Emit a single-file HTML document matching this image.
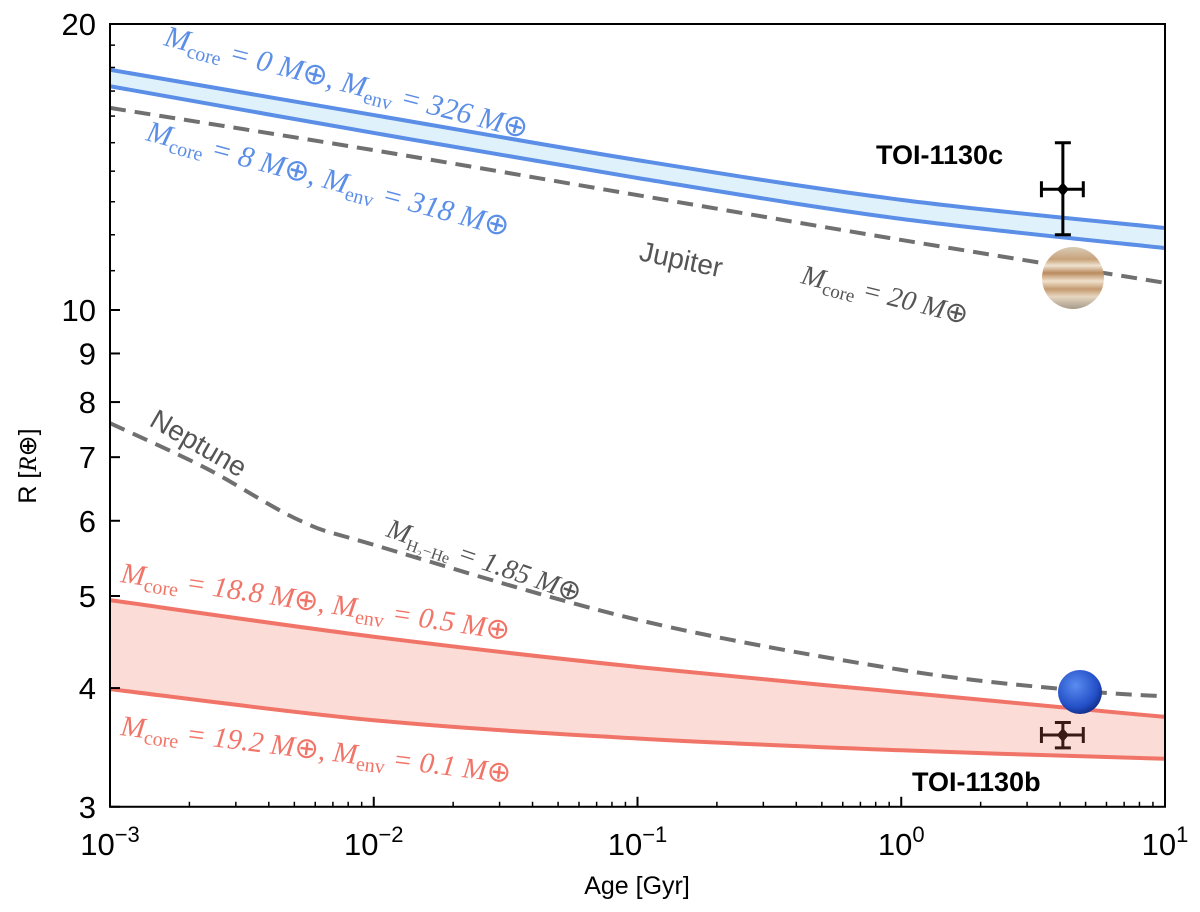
<!DOCTYPE html>
<html><head><meta charset="utf-8"><style>
body{margin:0;background:#fff;font-family:"Liberation Sans",sans-serif}
svg text{font-family:"Liberation Sans",sans-serif}
.serif{font-family:"Liberation Serif",serif;font-style:italic}
</style></head><body>
<svg id="chart" width="1200" height="907" xmlns="http://www.w3.org/2000/svg">
<defs>
<radialGradient id="nepG" cx="0.4" cy="0.35" r="0.7"><stop offset="0" stop-color="#5a8cf0"/><stop offset="0.7" stop-color="#2450c8"/><stop offset="1" stop-color="#102a80"/></radialGradient>
<linearGradient id="jupG" x1="0" y1="0" x2="0" y2="1">
<stop offset="0" stop-color="#d9cbb6"/><stop offset="0.2" stop-color="#c8a27a"/><stop offset="0.3" stop-color="#efe3d0"/><stop offset="0.42" stop-color="#b98a5e"/><stop offset="0.55" stop-color="#f0e2cc"/><stop offset="0.68" stop-color="#c49a70"/><stop offset="0.8" stop-color="#e6d6c0"/><stop offset="1" stop-color="#a89a8a"/></linearGradient>
</defs>
<g id="plot"></g>
</svg>
<script>
const ages=[0.001,0.01,0.1,1,10];
const blueUpper=[17.9,16.04,14.38,13.06,12.2];
const blueLower=[17.2,15.36,13.77,12.47,11.62];
const jupiterR=[16.32,14.73,13.21,11.85,10.68];
const neptuneAges=[0.001,0.0023,0.0052,0.01,0.1,1,4.5,10];
const neptuneR=[7.6,6.82,6.01,5.66,4.72,4.18,3.98,3.92];
const redUpper=[4.95,4.53,4.21,3.96,3.73];
const redLower=[3.99,3.70,3.54,3.44,3.37];
const planetAge=[4.1,4.1];
const planetR=[13.4,3.57];
const planetRlo=[12.0,3.46];
const planetRhi=[15.0,3.68];
const planetAgeLo=[3.4,3.4];
const planetAgeHi=[4.9,4.9];
const yTicks=[20,10,9,8,7,6,5,4,3];
const xTicks=[-3,-2,-1,0,1];

const X0=110,X1=1165,Y20=24,Y10=310;
const dec=(Y10-Y20)/Math.log10(2);
function xs(a){return X0+(Math.log10(a)+3)/4*(X1-X0);}
function ys(r){return Y10-(Math.log10(r)-1)*dec;}
const NS="http://www.w3.org/2000/svg";
const g=document.getElementById('plot');
function el(t,a,p){const e=document.createElementNS(NS,t);for(const k in a)e.setAttribute(k,a[k]);(p||g).appendChild(e);return e;}
function pts(A,R){return A.map((a,i)=>[xs(a),ys(R[i])]);}
function smooth(P){let d='M'+P[0][0]+','+P[0][1];for(let i=0;i<P.length-1;i++){const p0=P[Math.max(i-1,0)],p1=P[i],p2=P[i+1],p3=P[Math.min(i+2,P.length-1)];
const c1=[p1[0]+(p2[0]-p0[0])/6,p1[1]+(p2[1]-p0[1])/6],c2=[p2[0]-(p3[0]-p1[0])/6,p2[1]-(p3[1]-p1[1])/6];
d+=' C'+c1[0]+','+c1[1]+' '+c2[0]+','+c2[1]+' '+p2[0]+','+p2[1];}return d;}
function band(U,L,fill,name){const pu=pts(ages,U),pl=pts(ages,L).reverse();
const d=smooth(pu)+' L'+pl[0][0]+','+pl[0][1]+smooth(pl).replace(/^M[^C]*/,' ')+'Z';
const e=el('path',{d:d,fill:fill});}
function line(A,R,stroke,dash,name){const e=el('path',{d:smooth(pts(A,R)),fill:'none',stroke:stroke,'stroke-width':4,'stroke-dasharray':dash||'none'});
}
band(blueUpper,blueLower,'#dff1fb','blue-band');
band(redUpper,redLower,'#fcdcd6','red-band');
line(ages,jupiterR,'#707070','16,9','jupiter-curve');
line(neptuneAges,neptuneR,'#707070','16,9','neptune-curve');
line(ages,blueUpper,'#5b8ee6',null,'blue-upper-curve');
line(ages,blueLower,'#5b8ee6',null,'blue-lower-curve');
line(ages,redUpper,'#f17468',null,'red-upper-curve');
line(ages,redLower,'#f17468',null,'red-lower-curve');
let e=el('circle',{cx:1073,cy:278,r:31,fill:'url(#jupG)'});
e=el('circle',{cx:1080,cy:692,r:22,fill:'url(#nepG)'});
const pColors=['#000','#3a1a14'];
planetAge.forEach((a,i)=>{const gg=el('g',{stroke:pColors[i],'stroke-width':3});

const x=xs(a),y=ys(planetR[i]),ylo=ys(planetRlo[i]),yhi=ys(planetRhi[i]),xlo=xs(planetAgeLo[i]),xhi=xs(planetAgeHi[i]);
el('line',{x1:x,y1:ylo,x2:x,y2:yhi},gg);el('line',{x1:xlo,y1:y,x2:xhi,y2:y},gg);
el('line',{x1:x-8,y1:ylo,x2:x+8,y2:ylo},gg);el('line',{x1:x-8,y1:yhi,x2:x+8,y2:yhi},gg);
el('line',{x1:xlo,y1:y-8,x2:xlo,y2:y+8},gg);el('line',{x1:xhi,y1:y-8,x2:xhi,y2:y+8},gg);
el('path',{d:`M${x},${y-7}L${x+6},${y}L${x},${y+7}L${x-6},${y}Z`,fill:pColors[i],stroke:'none'},gg);});
e=el('rect',{x:X0,y:Y20,width:X1-X0,height:ys(3)-Y20,fill:'none',stroke:'#000','stroke-width':2});
yTicks.forEach(t=>{const y=ys(t);el('line',{x1:X0,y1:y,x2:X0+10,y2:y,stroke:'#000','stroke-width':2});
const tx=el('text',{x:X0-14,y:y+11,'text-anchor':'end','font-size':31});tx.textContent=t;});
xTicks.forEach(t=>{const x=X0+(t+3)/4*(X1-X0);el('line',{x1:x,y1:ys(3),x2:x,y2:ys(3)-10,stroke:'#000','stroke-width':2});
for(let m=2;m<10&&t<1;m++){const xm=x+Math.log10(m)/4*(X1-X0);el('line',{x1:xm,y1:ys(3),x2:xm,y2:ys(3)-5,stroke:'#000','stroke-width':1.5});}
const tx=el('text',{x:x,y:855,'text-anchor':'middle','font-size':31});tx.innerHTML='10<tspan dy="-13" font-size="22">'+(t<0?'\u2212'+(-t):t)+'</tspan>';
});
for(let r=11;r<20;r++){const y=ys(r);el('line',{x1:X0,y1:y,x2:X0+5,y2:y,stroke:'#000','stroke-width':1.5});}
</script>
<svg style="position:absolute;left:0;top:0" width="1200" height="907" xmlns="http://www.w3.org/2000/svg">
<text x="637" y="894" text-anchor="middle" font-size="25">Age [Gyr]</text>
<text transform="translate(36,466) rotate(-90)" text-anchor="middle" font-size="25">R [<tspan class="serif">R</tspan>⊕]</text>
<text transform="translate(163,45) rotate(14.5)" class="serif" font-size="30" fill="#5b8ee6">M<tspan font-size="20" dy="6" font-style="normal">core</tspan><tspan dy="-6"> = 0 </tspan>M<tspan font-style="normal">⊕,  </tspan>M<tspan font-size="20" dy="6" font-style="normal">env</tspan><tspan dy="-6"> = 326 </tspan>M<tspan font-style="normal">⊕</tspan></text>
<text transform="translate(145,140) rotate(15)" class="serif" font-size="30" fill="#5b8ee6">M<tspan font-size="20" dy="6" font-style="normal">core</tspan><tspan dy="-6"> = 8 </tspan>M<tspan font-style="normal">⊕,  </tspan>M<tspan font-size="20" dy="6" font-style="normal">env</tspan><tspan dy="-6"> = 318 </tspan>M<tspan font-style="normal">⊕</tspan></text>
<text transform="translate(638,260) rotate(12)" font-size="28" fill="#555">Jupiter</text>
<text transform="translate(800,283) rotate(14)" class="serif" font-size="28" fill="#555">M<tspan font-size="19" dy="6" font-style="normal">core</tspan><tspan dy="-6"> = 20 </tspan>M<tspan font-style="normal">⊕</tspan></text>
<text transform="translate(148,425) rotate(30)" font-size="28" fill="#555">Neptune</text>
<text transform="translate(385,536) rotate(19)" class="serif" font-size="28" fill="#555">M<tspan font-size="16" dy="6" font-style="normal">H₂−He</tspan><tspan dy="-6"> = 1.85 </tspan>M<tspan font-style="normal">⊕</tspan></text>
<text transform="translate(120,582) rotate(8.5)" class="serif" font-size="29" fill="#f17468">M<tspan font-size="20" dy="6" font-style="normal">core</tspan><tspan dy="-6"> = 18.8 </tspan>M<tspan font-style="normal">⊕, </tspan>M<tspan font-size="20" dy="6" font-style="normal">env</tspan><tspan dy="-6"> = 0.5 </tspan>M<tspan font-style="normal">⊕</tspan></text>
<text transform="translate(120,735) rotate(7)" class="serif" font-size="29" fill="#f17468">M<tspan font-size="20" dy="6" font-style="normal">core</tspan><tspan dy="-6"> = 19.2 </tspan>M<tspan font-style="normal">⊕, </tspan>M<tspan font-size="20" dy="6" font-style="normal">env</tspan><tspan dy="-6"> = 0.1 </tspan>M<tspan font-style="normal">⊕</tspan></text>
<text x="876" y="164" font-size="27" font-weight="bold">TOI-1130c</text>
<text x="912" y="791" font-size="27" font-weight="bold">TOI-1130b</text>
</svg>
</body></html>
